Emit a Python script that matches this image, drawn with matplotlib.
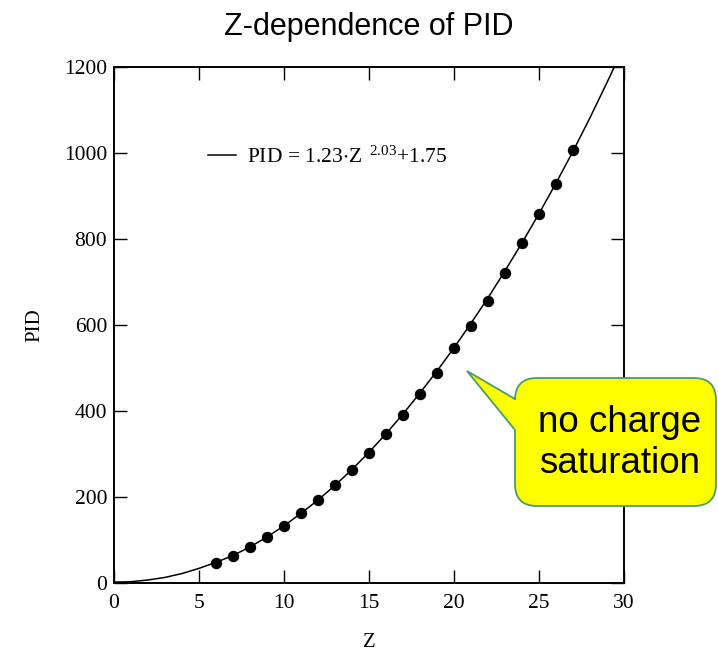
import numpy as np
import matplotlib
matplotlib.use("Agg")
import matplotlib.pyplot as plt
from matplotlib.path import Path
from matplotlib.patches import PathPatch

plt.rcParams['font.family'] = 'Liberation Serif'
plt.rcParams['mathtext.fontset'] = 'custom'
plt.rcParams['mathtext.rm'] = 'Liberation Serif'
plt.rcParams['mathtext.default'] = 'regular'

# fit curve
z_fit = list(range(0, 31))
pid_fit = [2, 3, 7, 13, 22, 34, 48, 64, 84, 107, 133, 162, 193, 227, 264, 304,
           347, 393, 442, 493, 547, 604, 663, 726, 791, 859, 930, 1004, 1082,
           1164, 1248]

# measured points
z_pts = list(range(6, 28))
pid_pts = [46, 63, 83, 106, 132, 163, 193, 228, 263, 302, 347, 391, 440, 489,
           546, 598, 656, 720, 790, 858, 928, 1007]

W, H = 718, 651
fig = plt.figure(figsize=(W / 100, H / 100), dpi=100)
ax = fig.add_axes([114 / W, 1 - 583 / H, 510 / W, 516 / H])

ax.plot(z_fit, pid_fit, color='black', lw=1.1,
        label=r'PID = 1.23$\cdot$Z $^{\,2.03}$+1.75')
ax.plot(z_pts, pid_pts, 'o', color='black', ms=7.2)

ax.set_xlim(0, 30)
ax.set_ylim(0, 1200)
ax.set_xticks(range(0, 31, 5))
ax.set_yticks(range(0, 1201, 200))
ax.tick_params(direction='in', length=9.5, width=1.0, labelsize=15.5,
               top=True, right=True)
ax.tick_params(axis='x', pad=8)
ax.tick_params(axis='y', pad=5)
for s in ax.spines.values():
    s.set_linewidth(1.4)

ax.set_xlabel('Z', fontsize=15, labelpad=14)
ax.set_ylabel('PID', fontsize=15, labelpad=14)

ax.legend(loc='center left', bbox_to_anchor=(0.184, 0.826), frameon=False,
          fontsize=15.5, handlelength=1.3, handletextpad=0.5, borderpad=0,
          borderaxespad=0)

fig.text(369 / W, 1 - 35 / H, 'Z-dependence of PID', ha='center',
         va='baseline', fontsize=22, family='Liberation Sans')

# callout bubble (image pixel coords)
L, R, T, B, r = 515, 716, 378, 506, 22
tip = (467, 371)
pts = [(L + r, T), (R - r, T), (R, T), (R, T + r), (R, B - r), (R, B),
       (R - r, B), (L + r, B), (L, B), (L, B - r), (L, 430), tip, (L, 399),
       (L, T + r), (L, T), (L + r, T), (L + r, T)]
codes = [Path.MOVETO, Path.LINETO, Path.CURVE3, Path.CURVE3, Path.LINETO,
         Path.CURVE3, Path.CURVE3, Path.LINETO, Path.CURVE3, Path.CURVE3,
         Path.LINETO, Path.LINETO, Path.LINETO, Path.LINETO, Path.CURVE3,
         Path.CURVE3, Path.CLOSEPOLY]
verts = [(x / W, 1 - y / H) for x, y in pts]
bubble = PathPatch(Path(verts, codes), transform=fig.transFigure,
                   facecolor='#ffff00', edgecolor='#4c9a6e', lw=1.3,
                   zorder=10, clip_on=False)
fig.patches.append(bubble)
fig.text(620 / W, 1 - 443 / H, 'no charge\nsaturation', ha='center',
         va='center', fontsize=26.5, family='Liberation Sans', linespacing=1.22,
         zorder=11)

fig.savefig('out.png', dpi=100)
